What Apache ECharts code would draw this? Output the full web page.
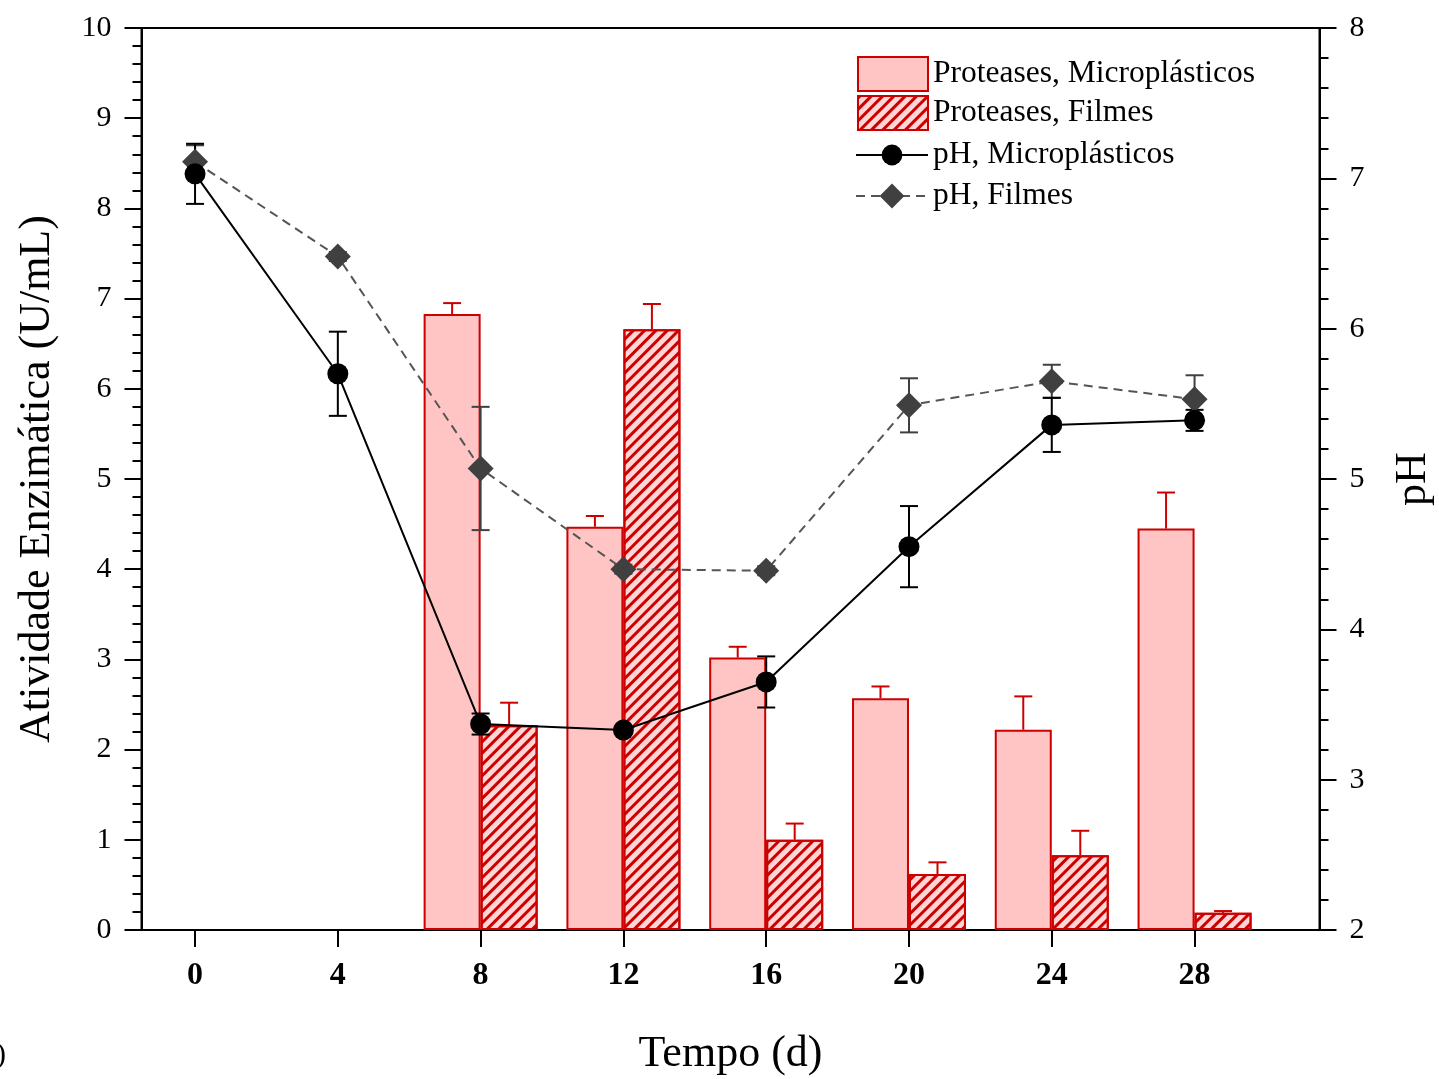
<!DOCTYPE html>
<html><head><meta charset="utf-8">
<script src="https://cdn.jsdelivr.net/npm/echarts@6/dist/echarts.min.js"></script>
<style>html,body{margin:0;padding:0;background:#fff}#c{width:1439px;height:1079px}</style>
</head><body><div id="c"></div>
<script>
// ---- data ----
const xTicks = [0, 4, 8, 12, 16, 20, 24, 28];
const phDays = [0, 4, 8, 12, 16, 20, 24, 28];
const barDays = [8, 12, 16, 20, 24, 28];
const protMicro = [6.83, 4.47, 3.02, 2.57, 2.22, 4.45];
const protMicroErr = [0.12, 0.12, 0.12, 0.13, 0.37, 0.40];
const protFilm = [2.27, 6.66, 1.00, 0.62, 0.83, 0.19];
const protFilmErr = [0.25, 0.28, 0.18, 0.13, 0.27, 0.02];
const phMicro = [7.03, 5.70, 3.37, 3.33, 3.65, 4.55, 5.36, 5.39];
const phMicroErr = [0.20, 0.28, 0.07, 0.02, 0.17, 0.27, 0.18, 0.07];
const phFilm = [7.11, 6.48, 5.07, 4.40, 4.39, 5.49, 5.65, 5.53];
const phFilmErr = [0.11, 0.03, 0.41, 0.03, 0.03, 0.18, 0.11, 0.16];

const names = {
  pm: 'Proteases, Microplásticos',
  pf: 'Proteases, Filmes',
  hm: 'pH, Microplásticos',
  hf: 'pH, Filmes'
};

// ---- style ----
const FONT = 'Liberation Serif';
const RED = '#cc0000';
const PINK = '#ffc4c4';
const BAR_W = 57;
const CAP = 9;

const zip = (xs, ys) => xs.map((x, i) => [x, ys[i]]);
const zip3 = (xs, ys, es) => xs.map((x, i) => [x, ys[i], es[i]]);

function barErr(side) {
  return function (params, api) {
    const x = api.value(0), v = api.value(1), e = api.value(2);
    const p0 = api.coord([x, v]);
    const p1 = api.coord([x, v + e]);
    const cx = p0[0] + side * BAR_W / 2;
    const st = { stroke: RED, lineWidth: 2 };
    return { type: 'group', children: [
      { type: 'line', shape: { x1: cx, y1: p0[1], x2: cx, y2: p1[1] }, style: st },
      { type: 'line', shape: { x1: cx - CAP, y1: p1[1], x2: cx + CAP, y2: p1[1] }, style: st }
    ]};
  };
}
function phErr(color) {
  return function (params, api) {
    const x = api.value(0), v = api.value(1), e = api.value(2);
    const lo = api.coord([x, v - e]);
    const hi = api.coord([x, v + e]);
    const cx = lo[0];
    const st = { stroke: color, lineWidth: 2 };
    return { type: 'group', children: [
      { type: 'line', shape: { x1: cx, y1: lo[1], x2: cx, y2: hi[1] }, style: st },
      { type: 'line', shape: { x1: cx - CAP, y1: lo[1], x2: cx + CAP, y2: lo[1] }, style: st },
      { type: 'line', shape: { x1: cx - CAP, y1: hi[1], x2: cx + CAP, y2: hi[1] }, style: st }
    ]};
  };
}

const axisCommon = {
  axisLine: { show: true, onZero: false, lineStyle: { color: '#000', width: 2 } },
  axisTick: { show: true, inside: false, length: 17, lineStyle: { color: '#000', width: 2 } },
  minorTick: { show: true, splitNumber: 5, length: 9, lineStyle: { color: '#000', width: 2 } },
  axisLabel: { color: '#000', fontFamily: FONT, fontSize: 30, margin: 30 },
  splitLine: { show: false },
  nameTextStyle: { color: '#000', fontFamily: FONT, fontSize: 44 }
};
const legendText = { color: '#000', fontFamily: FONT, fontSize: 31.5 };

const chart = echarts.init(document.getElementById('c'), null, { renderer: 'canvas' });
chart.setOption({
  backgroundColor: '#fff',
  animation: false,
  grid: {
    left: 141.5, right: 119.5, top: 28, bottom: 149,
    outerBoundsMode: 'none', containLabel: false,
    show: true, borderColor: '#000', borderWidth: 2, backgroundColor: 'transparent'
  },
  xAxis: {
    type: 'value', min: -1.5, max: 31.5,
    name: 'Tempo (d)', nameLocation: 'middle', nameGap: 102,
    nameTextStyle: { color: '#000', fontFamily: FONT, fontSize: 44 },
    axisLine: { show: true, onZero: false, lineStyle: { color: '#000', width: 2 } },
    axisTick: { show: true, customValues: xTicks, length: 17, lineStyle: { color: '#000', width: 2 } },
    axisLabel: { customValues: xTicks, color: '#000', fontFamily: FONT, fontSize: 32, fontWeight: 'bold', margin: 30 },
    splitLine: { show: false }
  },
  yAxis: [
    Object.assign({}, axisCommon, {
      type: 'value', min: 0, max: 10, interval: 1, position: 'left',
      name: 'Atividade Enzimática (U/mL)', nameLocation: 'middle', nameGap: 82
    }),
    Object.assign({}, axisCommon, {
      type: 'value', min: 2, max: 8, interval: 1, position: 'right',
      name: 'pH', nameLocation: 'middle', nameGap: 72
    })
  ],
  legend: [
    {
      data: [{ name: names.pm, icon: 'rect' }, { name: names.pf, icon: 'rect' }],
      orient: 'vertical', left: 852, top: 51,
      itemWidth: 70, itemHeight: 34, itemGap: 3,
      textStyle: legendText
    },
    {
      data: [names.hm], orient: 'vertical', left: 850, top: 134,
      itemWidth: 72, itemHeight: 26,
      textStyle: legendText
    },
    {
      data: [names.hf], orient: 'vertical', left: 850, top: 175,
      itemWidth: 72, itemHeight: 31,
      textStyle: legendText
    }
  ],
  graphic: [
    { type: 'text', left: -4, top: 1040, style: { text: ')', font: '30px "Liberation Serif"', fill: '#000' } }
  ],
  series: [
    {
      name: names.pm, type: 'bar', yAxisIndex: 0, data: zip(barDays, protMicro),
      barWidth: BAR_W, barGap: '0%', z: 2,
      itemStyle: { color: PINK, borderColor: RED, borderWidth: 2 }
    },
    {
      name: names.pf, type: 'bar', yAxisIndex: 0, data: zip(barDays, protFilm),
      barWidth: BAR_W, barGap: '0%', z: 2,
      itemStyle: {
        color: '#ffd6d6', borderColor: RED, borderWidth: 2,
        decal: { symbol: 'rect', color: RED, dashArrayX: [1, 0], dashArrayY: [3, 5], rotation: -Math.PI / 4 }
      }
    },
    { type: 'custom', yAxisIndex: 0, data: zip3(barDays, protMicro, protMicroErr), renderItem: barErr(-1), z: 3, silent: true },
    { type: 'custom', yAxisIndex: 0, data: zip3(barDays, protFilm, protFilmErr), renderItem: barErr(1), z: 3, silent: true },
    { type: 'custom', yAxisIndex: 1, data: zip3(phDays, phFilm, phFilmErr), renderItem: phErr('#404040'), z: 4, silent: true },
    { type: 'custom', yAxisIndex: 1, data: zip3(phDays, phMicro, phMicroErr), renderItem: phErr('#000'), z: 4, silent: true },
    {
      name: names.hf, type: 'line', yAxisIndex: 1, data: zip(phDays, phFilm), z: 5,
      symbol: 'diamond', symbolSize: 26, color: '#404040',
      itemStyle: { color: '#404040' },
      lineStyle: { color: '#555', width: 2, type: [9, 6] }
    },
    {
      name: names.hm, type: 'line', yAxisIndex: 1, data: zip(phDays, phMicro), z: 6,
      symbol: 'circle', symbolSize: 21, color: '#000',
      itemStyle: { color: '#000' },
      lineStyle: { color: '#000', width: 2 }
    }
  ]
});
</script></body></html>
